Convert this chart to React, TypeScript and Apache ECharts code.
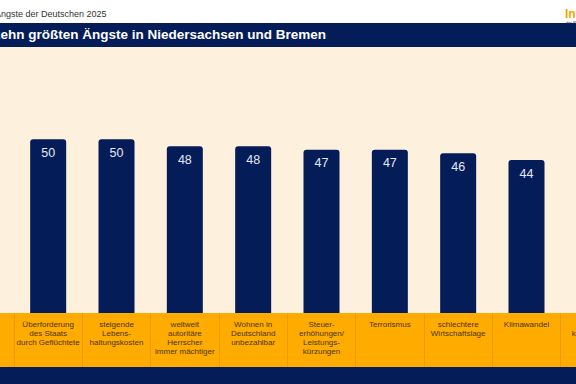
import React, { useEffect, useRef } from "react";
import * as echarts from "echarts";

const categories = [
  "Überforderung\ndes Staats\ndurch Geflüchtete",
  "steigende\nLebens-\nhaltungskosten",
  "weltweit\nautoritäre\nHerrscher\nimmer mächtiger",
  "Wohnen in\nDeutschland\nunbezahlbar",
  "Steuer-\nerhöhungen/\nLeistungs-\nkürzungen",
  "Terrorismus",
  "schlechtere\nWirtschaftslage",
  "Klimawandel",
  "Natur-\nkatastrophen",
];
const values = [50, 50, 48, 48, 47, 47, 46, 44, 43];
const subtitle = "Die Ängste der Deutschen 2025";
const title = "Die zehn größten Ängste in Niedersachsen und Bremen";

const NAVY = "#041c58";
const ORANGE = "#ffab00";
const CREAM = "#fdf0dc";
const W = 700;

export default function App() {
  const ref = useRef<HTMLDivElement>(null);
  useEffect(() => {
    if (!ref.current) return;
    const chart = echarts.init(ref.current, null, { renderer: "svg" });
    chart.setOption({
      animation: false,
      backgroundColor: "#ffffff",
      graphic: [
        { type: "rect", silent: true, z: -10, shape: { x: 0, y: 47, width: W, height: 266 }, style: { fill: CREAM } },
        { type: "rect", silent: true, z: -10, shape: { x: 0, y: 313, width: W, height: 54 }, style: { fill: ORANGE } },
        { type: "rect", silent: true, z: -10, shape: { x: 0, y: 367, width: W, height: 17 }, style: { fill: NAVY } },
        { type: "rect", silent: true, z: -10, shape: { x: 0, y: 23, width: W, height: 24 }, style: { fill: NAVY } },
        {
          type: "text", x: -21, y: 9,
          style: { text: subtitle, fontSize: 9, fill: "#333333", fontFamily: "Liberation Sans" },
        },
        {
          type: "text", x: -31, y: 27.5,
          style: { text: title, fontSize: 13.5, fontWeight: "bold", fill: "#ffffff", fontFamily: "Liberation Sans" },
        },
        {
          type: "text", x: 565, y: 8,
          style: { text: "Info", fontSize: 12, fontWeight: "bold", fill: "#f5a300", fontFamily: "Liberation Sans" },
        },
        {
          type: "text", x: 566, y: 20,
          style: { text: "der R+V", fontSize: 4, fill: "#333333", fontFamily: "Liberation Sans" },
        },
      ],
      grid: { left: 14, width: 615, top: 35, bottom: 71 },
      xAxis: {
        type: "category",
        data: categories,
        axisLine: { show: false },
        axisTick: { show: true, length: 54, lineStyle: { color: "#eb9d00", width: 1 } },
        axisLabel: {
          interval: 0,
          margin: 7,
          fontSize: 8,
          lineHeight: 9,
          color: "#4a3606",
          fontFamily: "Liberation Sans",
          verticalAlign: "top",
        },
      },
      yAxis: { type: "value", min: 0, max: 80, show: false, splitLine: { show: false } },
      series: [
        {
          type: "bar",
          data: values,
          barWidth: 36,
          itemStyle: { color: NAVY, borderRadius: [3, 3, 0, 0] },
          label: {
            show: true,
            position: "insideTop",
            distance: 7,
            fontSize: 12.5,
            color: "#e4e9f5",
            fontFamily: "Liberation Sans",
          },
        },
      ],
    });
    return () => chart.dispose();
  }, []);
  return (
    <div
      ref={ref}
      style={{ position: "fixed", left: 0, top: 0, width: W, height: 384, overflow: "hidden" }}
    />
  );
}
